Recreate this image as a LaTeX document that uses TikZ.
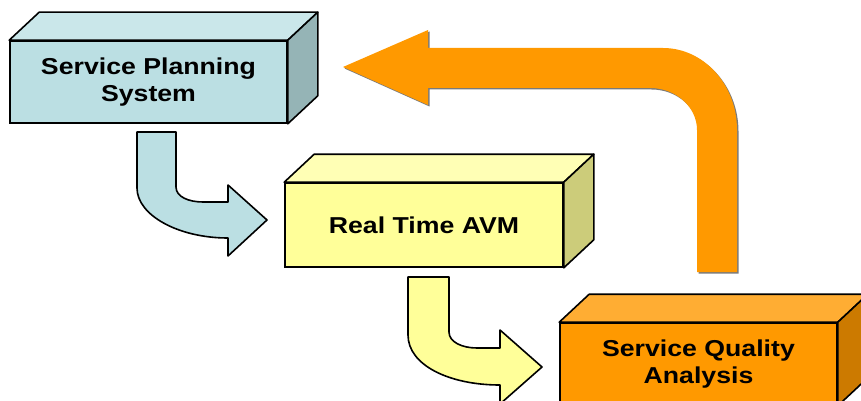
\documentclass[tikz,border=0pt]{standalone}
\usepackage{fontspec}
\setmainfont{Liberation Sans}
\usepackage{graphicx}
\usepackage{tikz}
\usetikzlibrary{calc,shadows}

\definecolor{spsfront}{HTML}{BBDFE3}
\definecolor{spstop}{HTML}{CAE7EA}
\definecolor{spsside}{HTML}{95B4B6}
\definecolor{rtfront}{HTML}{FFFF99}
\definecolor{rttop}{HTML}{FFFFB5}
\definecolor{rtside}{HTML}{CCCC7A}
\definecolor{sqfront}{HTML}{FF9900}
\definecolor{sqtop}{HTML}{FFAD33}
\definecolor{sqside}{HTML}{CC7A00}

\newcommand\wtext[1]{\scalebox{1.16}[1]{#1}}
% top and right faces of a box, #1 node, #2 top colour, #3 side colour
\newcommand\boxfaces[3]{
	\draw[face, fill=#2] (#1.north west) -- ++(30,-28) -- ($(#1.north east)+(30,-28)$) -- (#1.north east) -- cycle;
	\draw[face, fill=#3] (#1.north east) -- ++(30,-28) -- ($(#1.south east)+(30,-28)$) -- (#1.south east) -- cycle;
}

\begin{document}
\begin{tikzpicture}[
	x = 1pt, y = -1pt,
	front/.style = {draw, line width = 1.6pt, inner sep = 0pt, align = center,
		font = \bfseries\fontsize{23}{27.5}\selectfont},
	face/.style = {draw, line width = 1.6pt, line join = round},
	bent/.style = {draw, line width = 1.6pt, line join = round},
	back/.style = {fill = sqfront, drop shadow = {shadow xshift = 1.5pt, shadow yshift = -1.5pt, fill = black!65, opacity = 0.8}}
	]
	\useasboundingbox (0,0) rectangle (861,401);
	\clip (0,0) rectangle (861,401);

	\node[front, fill = spsfront, minimum width = 277pt, minimum height = 82pt] (sps) at (148.5,82)
		{\wtext{Service Planning}\\\wtext{System}};
	\boxfaces{sps}{spstop}{spsside}

	\node[front, fill = rtfront, minimum width = 278pt, minimum height = 84pt] (rt) at (424,225)
		{\wtext{Real Time AVM}};
	\boxfaces{rt}{rttop}{rtside}

	\node[front, fill = sqfront, minimum width = 277pt, minimum height = 82pt] (sq) at (698.5,364)
		{\wtext{Service Quality}\\\wtext{Analysis}};
	\boxfaces{sq}{sqtop}{sqside}

	% planning -> avm
	\draw[bent, fill = spsfront] (137,132) -- (176,132) -- (176,187)
		.. controls (176,197) and (189,202) .. (203,202) -- (228,202) -- (228,185) -- (267,220)
		-- (228,256) -- (228,238) .. controls (178,238) and (137,215) .. (137,188) -- cycle;

	% avm -> quality
	\draw[bent, fill = rtfront] (408,277) -- (449,277) -- (449,332)
		.. controls (449,342) and (462,348) .. (477,348) -- (500,348) -- (500,330) -- (542,367)
		-- (500,404) -- (500,385) .. controls (449,385) and (408,365) .. (408,335) -- cycle;

	% quality -> planning
	\path[back] (697,272) -- (697,130) .. controls (697,107) and (676,88) .. (650,88)
		-- (428,88) -- (428,105) -- (343,67) -- (428,30) -- (428,48) -- (663,48)
		.. controls (704,48) and (737,85) .. (737,130) -- (737,272) -- cycle;
\end{tikzpicture}
\end{document}
